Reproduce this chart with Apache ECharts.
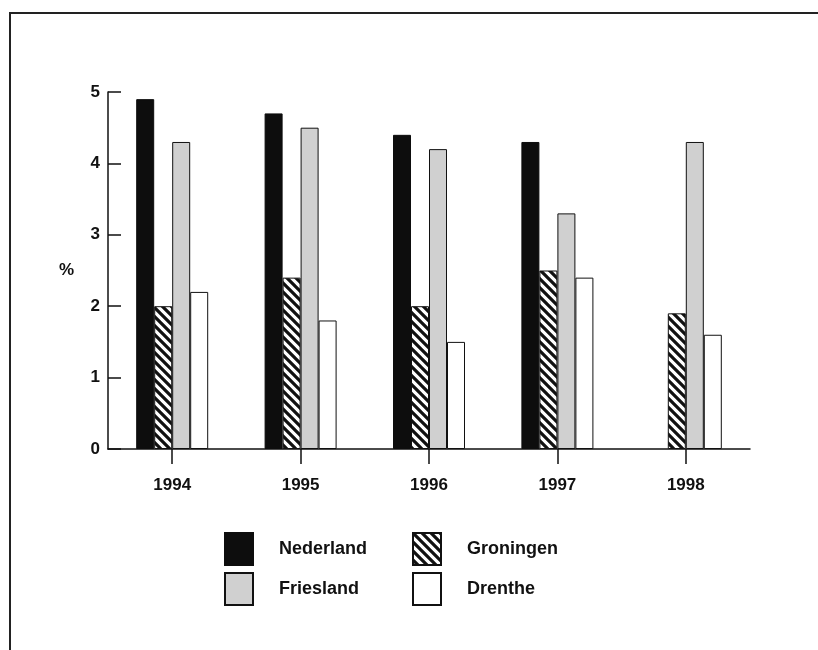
<!DOCTYPE html>
<html>
<head>
<meta charset="utf-8">
<script src="https://cdn.jsdelivr.net/npm/echarts@6/dist/echarts.min.js"></script>
<style>
html,body{margin:0;padding:0;background:#fff;}
#c{width:818px;height:650px;}
</style>
</head>
<body>
<div id="c"></div>
<script>
const years = ['1994', '1995', '1996', '1997', '1998'];
const nederland = [4.9, 4.7, 4.4, 4.3, null];
const groningen = [2.0, 2.4, 2.0, 2.5, 1.9];
const friesland = [4.3, 4.5, 4.2, 3.3, 4.3];
const drenthe = [2.2, 1.8, 1.5, 2.4, 1.6];
const yTicks = {min: 0, max: 5, interval: 1};

// diagonal stripe pattern
const P = 9;
const pc = document.createElement('canvas');
pc.width = P; pc.height = P;
const ctx = pc.getContext('2d');
ctx.fillStyle = '#fff';
ctx.fillRect(0, 0, P, P);
ctx.strokeStyle = '#111';
ctx.lineWidth = 3.2;
ctx.beginPath();
ctx.moveTo(-2, -2); ctx.lineTo(P + 2, P + 2);
ctx.moveTo(-P - 2, -2); ctx.lineTo(2, P + 2);
ctx.moveTo(P - 2, -2); ctx.lineTo(2 * P + 2, P + 2);
ctx.stroke();

const font = '"Liberation Sans", Arial, sans-serif';
const chart = echarts.init(document.getElementById('c'));
const barBase = {type: 'bar', barWidth: 18, barGap: '0%'};
const legendText = {color: '#111', fontSize: 18, fontWeight: 'bold', fontFamily: font, padding: [0, 0, 0, 21]};
chart.setOption({
  animation: false,
  backgroundColor: '#fff',
  textStyle: {fontFamily: font},
  grid: {left: 108, right: 68, top: 92, bottom: 201, containLabel: false},
  xAxis: {
    type: 'category',
    data: years,
    axisLine: {lineStyle: {color: '#111', width: 1.5}},
    axisTick: {show: true, alignWithLabel: true, length: 15, lineStyle: {color: '#111', width: 1.5}},
    axisLabel: {color: '#111', fontSize: 17, fontWeight: 'bold', margin: 28, fontFamily: font}
  },
  yAxis: {
    type: 'value',
    min: yTicks.min, max: yTicks.max, interval: yTicks.interval,
    name: '%',
    nameLocation: 'middle',
    nameRotate: 0,
    nameGap: 34,
    nameTextStyle: {color: '#111', fontSize: 17, fontWeight: 'bold', fontFamily: font},
    axisLine: {show: true, lineStyle: {color: '#111', width: 1.5}},
    axisTick: {show: true, inside: true, length: 13, lineStyle: {color: '#111', width: 1.5}},
    splitLine: {show: false},
    axisLabel: {color: '#111', fontSize: 17, fontWeight: 'bold', margin: 8, fontFamily: font}
  },
  legend: [
    {
      data: ['Nederland', 'Friesland'],
      orient: 'vertical', left: 224, top: 532, icon: 'rect',
      itemWidth: 28, itemHeight: 32, itemGap: 6, padding: 0,
      selectedMode: false,
      textStyle: legendText
    },
    {
      data: ['Groningen', 'Drenthe'],
      orient: 'vertical', left: 412, top: 532, icon: 'rect',
      itemWidth: 28, itemHeight: 32, itemGap: 6, padding: 0,
      selectedMode: false,
      textStyle: legendText
    }
  ],
  graphic: [
    {type: 'line', shape: {x1: 9, y1: 13, x2: 818, y2: 13}, style: {stroke: '#222', lineWidth: 2}},
    {type: 'line', shape: {x1: 10, y1: 13, x2: 10, y2: 650}, style: {stroke: '#222', lineWidth: 2}}
  ],
  series: [
    Object.assign({}, barBase, {name: 'Nederland', data: nederland,
      itemStyle: {color: '#0d0d0d', borderColor: '#0d0d0d', borderWidth: 1}}),
    Object.assign({}, barBase, {name: 'Groningen', data: groningen,
      itemStyle: {color: {image: pc, repeat: 'repeat'}, borderColor: '#111', borderWidth: 1}}),
    Object.assign({}, barBase, {name: 'Friesland', data: friesland,
      itemStyle: {color: '#d0d0d0', borderColor: '#111', borderWidth: 1}}),
    Object.assign({}, barBase, {name: 'Drenthe', data: drenthe,
      itemStyle: {color: '#ffffff', borderColor: '#111', borderWidth: 1}})
  ]
});
</script>
</body>
</html>
